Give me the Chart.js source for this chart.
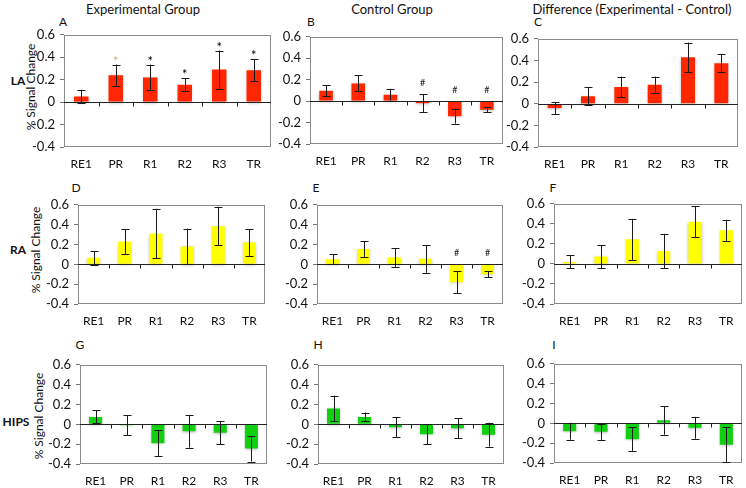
<!DOCTYPE html>
<html><head><meta charset="utf-8">
<script src="https://cdn.jsdelivr.net/npm/chart.js@4.4.1/dist/chart.umd.min.js"></script>
<style>
html,body{margin:0;padding:0;background:#fff;width:746px;height:488px;overflow:hidden;font-family:Lato,'Open Sans',sans-serif;color:#111}
canvas{position:absolute}
.t{position:absolute;white-space:nowrap;font-size:13px;transform:translate(-50%,-50%);line-height:1}
.row{font-weight:bold;font-size:12px}
.let{font-size:12px}
.yt{transform:translate(-50%,-50%) rotate(-90deg);font-size:12px}
</style></head><body>
<div class="t" style="left:143px;top:9px">Experimental Group</div>
<div class="t" style="left:392px;top:9px">Control Group</div>
<div class="t" style="left:632px;top:9px">Difference (Experimental - Control)</div>
<div class="t row" style="left:18px;top:81px">LA</div>
<div class="t row" style="left:18px;top:250px">RA</div>
<div class="t row" style="left:16px;top:422px">HIPS</div>
<div class="t yt" style="left:31px;top:87px">% Signal Change</div>
<div class="t yt" style="left:36px;top:250px">% Signal Change</div>
<div class="t yt" style="left:39px;top:416px">% Signal Change</div>
<div class="t let" style="left:63px;top:22px">A</div>
<div class="t let" style="left:311px;top:22px">B</div>
<div class="t let" style="left:538px;top:22px">C</div>
<div class="t let" style="left:76px;top:188px">D</div>
<div class="t let" style="left:316px;top:188px">E</div>
<div class="t let" style="left:553px;top:188px">F</div>
<div class="t let" style="left:80px;top:345px">G</div>
<div class="t let" style="left:318px;top:345px">H</div>
<div class="t let" style="left:554px;top:345px">I</div>
<script>
const categories = ['RE1','PR','R1','R2','R3','TR'];
const yTicks = [-0.4,-0.2,0,0.2,0.4,0.6];

const laExpMean = [0.05,0.24,0.22,0.155,0.29,0.285];
const laExpErr  = [0.06,0.095,0.115,0.06,0.17,0.1];
const laExpMarks = ['','*','*','*','*','*'];
const laCtlMean = [0.097,0.165,0.06,-0.02,-0.14,-0.08];
const laCtlErr  = [0.05,0.075,0.055,0.083,0.07,0.023];
const laCtlMarks = ['','','','#','#','#'];
const laDiffMean = [-0.04,0.07,0.155,0.175,0.43,0.375];
const laDiffErr  = [0.055,0.085,0.095,0.075,0.135,0.08];

const raExpMean = [0.065,0.23,0.31,0.18,0.385,0.22];
const raExpErr  = [0.07,0.125,0.25,0.18,0.195,0.135];
const raCtlMean = [0.05,0.155,0.07,0.055,-0.18,-0.1];
const raCtlErr  = [0.05,0.08,0.095,0.14,0.11,0.03];
const raCtlMarks = ['','','','','#','#'];
const raDiffMean = [0.02,0.075,0.245,0.13,0.42,0.335];
const raDiffErr  = [0.065,0.115,0.205,0.17,0.155,0.105];

const hipsExpMean = [0.075,-0.01,-0.19,-0.07,-0.085,-0.245];
const hipsExpErr  = [0.065,0.1,0.13,0.165,0.115,0.13];
const hipsCtlMean = [0.16,0.075,-0.03,-0.1,-0.04,-0.105];
const hipsCtlErr  = [0.13,0.043,0.1,0.1,0.1,0.12];
const hipsDiffMean = [-0.08,-0.085,-0.16,0.03,-0.045,-0.215];
const hipsDiffErr  = [0.085,0.083,0.118,0.145,0.11,0.178];

const RED = 'rgb(255,38,0)', YEL = 'rgb(255,255,0)', GRN = 'rgb(16,208,16)';
const panels = [
  {mean:laExpMean, err:laExpErr, marks:laExpMarks, markColors:['#000','#f0a070','#000','#000','#000','#000'], color:RED, rect:[64,32,271,147]},
  {mean:laCtlMean, err:laCtlErr, marks:laCtlMarks, color:RED, rect:[310,34,503,144]},
  {mean:laDiffMean, err:laDiffErr, color:RED, rect:[538,36,738,147]},
  {mean:raExpMean, err:raExpErr, color:YEL, rect:[78,202,265,304]},
  {mean:raCtlMean, err:raCtlErr, marks:raCtlMarks, color:YEL, rect:[317,202,503,304]},
  {mean:raDiffMean, err:raDiffErr, color:YEL, rect:[554,201,742,304]},
  {mean:hipsExpMean, err:hipsExpErr, color:GRN, rect:[80,362,267,464]},
  {mean:hipsCtlMean, err:hipsCtlErr, color:GRN, rect:[318,362,504,464]},
  {mean:hipsDiffMean, err:hipsDiffErr, color:GRN, rect:[554,361,742,463]}
];

Chart.defaults.font.family = 'Lato, "Open Sans", sans-serif';
Chart.defaults.color = '#111';
const YW = 44, PT = 10, PR = 12, XH = 26;

const drawPlugin = {
  id:'panelDecor',
  beforeDatasetsDraw(chart){
    const a = chart.chartArea, c = chart.ctx;
    c.save();
    c.strokeStyle = '#8a8a8a'; c.lineWidth = 1;
    c.strokeRect(Math.round(a.left)+0.5, Math.round(a.top)+0.5, Math.round(a.right-a.left)-1, Math.round(a.bottom-a.top)-1);
    c.restore();
  },
  beforeDatasetDraw(chart){
    const c = chart.ctx; c.save();
    c.shadowColor = 'rgba(0,0,0,0.28)'; c.shadowBlur = 3; c.shadowOffsetY = 1;
  },
  afterDatasetDraw(chart){ chart.ctx.restore(); },
  afterDatasetsDraw(chart){
    const a = chart.chartArea, c = chart.ctx, ys = chart.scales.y;
    const p = chart.options.plugins.panelDecor;
    const y0 = Math.round(ys.getPixelForValue(0)) + 0.5;
    c.save();
    c.strokeStyle = '#222'; c.lineWidth = 1;
    c.beginPath(); c.moveTo(a.left, y0); c.lineTo(a.right, y0); c.stroke();
    const n = categories.length, w = (a.right - a.left) / n;
    for (let i = 1; i < n; i++) {
      const x = Math.round(a.left + i*w) + 0.5;
      c.beginPath(); c.moveTo(x, y0); c.lineTo(x, y0 + 4); c.stroke();
    }
    const meta = chart.getDatasetMeta(0);
    c.strokeStyle = '#1a1a1a';
    meta.data.forEach((el, i) => {
      const m = p.mean[i], e = p.err[i];
      const x = Math.round(el.x) + 0.5;
      const yT = ys.getPixelForValue(m + e), yB = ys.getPixelForValue(m - e);
      c.beginPath();
      c.moveTo(x, yT); c.lineTo(x, yB);
      c.moveTo(x - 4, Math.round(yT)+0.5); c.lineTo(x + 4, Math.round(yT)+0.5);
      c.moveTo(x - 4, Math.round(yB)+0.5); c.lineTo(x + 4, Math.round(yB)+0.5);
      c.stroke();
      if (p.marks && p.marks[i]) {
        const mk = p.marks[i];
        c.fillStyle = p.markColors ? p.markColors[i] : '#111';
        c.textAlign = 'center';
        if (mk === '*') {
          c.font = '13px Lato, sans-serif'; c.textBaseline = 'alphabetic';
          c.fillText(mk, el.x, yT + 1);
        } else {
          c.font = '9px Lato, sans-serif'; c.textBaseline = 'middle';
          c.fillText(mk, el.x, Math.min(yT, ys.getPixelForValue(0)) - 11);
        }
      }
    });
    c.restore();
  }
};

panels.forEach(p => {
  const [L,T,R,B] = p.rect;
  const cv = document.createElement('canvas');
  const W = R - L + YW + PR, H = B - T + PT + XH;
  cv.width = W; cv.height = H;
  cv.style.left = (L - YW) + 'px'; cv.style.top = (T - PT) + 'px';
  cv.style.width = W + 'px'; cv.style.height = H + 'px';
  document.body.appendChild(cv);
  new Chart(cv, {
    type:'bar',
    data:{labels:categories, datasets:[{data:p.mean, backgroundColor:p.color, borderWidth:0, categoryPercentage:1, barPercentage:0.42}]},
    options:{
      responsive:false, animation:false, devicePixelRatio:1,
      layout:{padding:{left:0, top:PT, right:PR, bottom:0}},
      plugins:{legend:{display:false}, tooltip:{enabled:false}, panelDecor:{mean:p.mean, err:p.err, marks:p.marks, markColors:p.markColors}},
      scales:{
        x:{grid:{display:false, drawTicks:false}, border:{display:false},
           ticks:{font:{size:12}, color:'#111', padding:10, maxRotation:0, autoSkip:false},
           afterFit(s){ s.height = XH; }},
        y:{min:-0.4, max:0.6,
           grid:{display:true, drawOnChartArea:false, drawTicks:true, tickLength:4, color:'#777'},
           border:{display:false},
           afterBuildTicks(s){ s.ticks = yTicks.map(v => ({value:v})); },
           ticks:{font:{size:13}, color:'#111', padding:5, callback:v => String(Math.round(v*10)/10)},
           afterFit(s){ s.width = YW; }}
      }
    },
    plugins:[drawPlugin]
  });
});
</script>
</body></html>
